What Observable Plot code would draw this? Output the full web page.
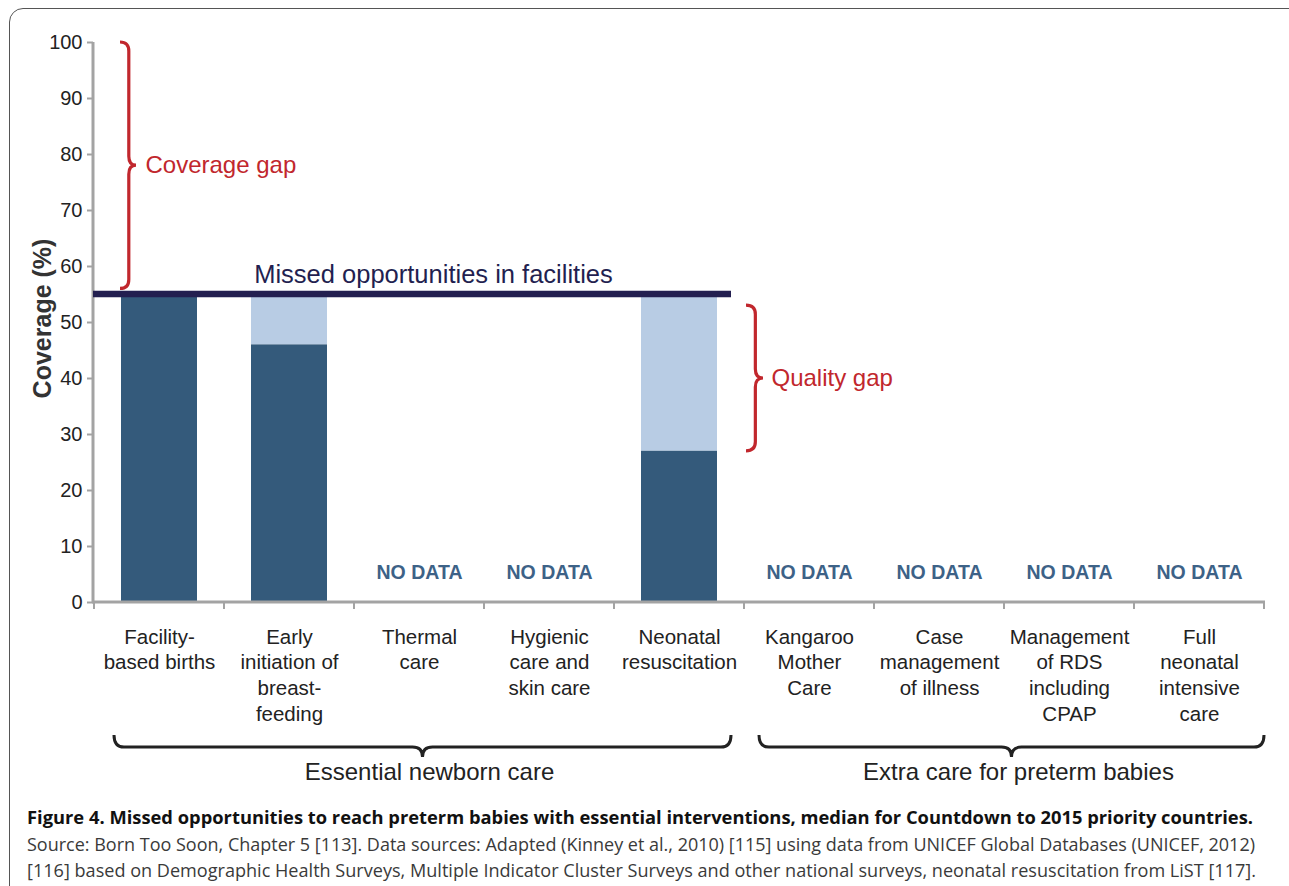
<!DOCTYPE html>
<html>
<head>
<meta charset="utf-8">
<script src="https://cdn.jsdelivr.net/npm/d3@7"></script>
<script src="https://cdn.jsdelivr.net/npm/@observablehq/plot@0.6"></script>
<style>
  html, body { margin: 0; padding: 0; background: #fff; }
  body { width: 1289px; height: 886px; position: relative; overflow: hidden; font-family: "Liberation Sans", Arial, sans-serif; }
  #frame { position: absolute; left: 9px; top: 8px; width: 1300px; height: 900px; border: 1.3px solid #555; border-radius: 14px; box-sizing: border-box; }
  #chart { position: absolute; left: 0; top: 0; }
  #caption { position: absolute; left: 27px; top: 804px; font-family: "Open Sans", "Noto Sans", sans-serif; font-size: 18.5px; line-height: 26.5px; color: #3a3a3a; white-space: nowrap; }
  #caption div { transform-origin: 0 50%; width: max-content; }
  #caption .t { font-weight: 700; color: #111; }
</style>
</head>
<body>
<div id="frame"></div>
<div id="chart"></div>
<div id="caption">
  <div class="t">Figure 4. Missed opportunities to reach preterm babies with essential interventions, median for Countdown to 2015 priority countries.</div>
  <div>Source: Born Too Soon, Chapter 5 [113]. Data sources: Adapted (Kinney et al., 2010) [115] using data from UNICEF Global Databases (UNICEF, 2012)</div>
  <div>[116] based on Demographic Health Surveys, Multiple Indicator Cluster Surveys and other national surveys, neonatal resuscitation from LiST [117].</div>
</div>
<script>
// ---- data ----
const categories = [
  "Facility-based births", "Early initiation of breast-feeding", "Thermal care",
  "Hygienic care and skin care", "Neonatal resuscitation", "Kangaroo Mother Care",
  "Case management of illness", "Management of RDS including CPAP", "Full neonatal intensive care"
];
const categoryLabels = [
  "Facility-\nbased births", "Early\ninitiation of\nbreast-\nfeeding", "Thermal\ncare",
  "Hygienic\ncare and\nskin care", "Neonatal\nresuscitation", "Kangaroo\nMother\nCare",
  "Case\nmanagement\nof illness", "Management\nof RDS\nincluding\nCPAP", "Full\nneonatal\nintensive\ncare"
];
const effectiveCoverage = [55, 46, null, null, 27, null, null, null, null];
const contactCoverage   = [55, 55, null, null, 55, null, null, null, null];
const missedLevel = 55;
const coverageGap = [56, 100];
const qualityGap = [27, 53];
const noDataLevel = 5.3;
const yTicks = [0, 10, 20, 30, 40, 50, 60, 70, 80, 90, 100];
const groupLabels = ["Essential newborn care", "Extra care for preterm babies"];
const groupFrom = [0, 5];
const groupTo = [4, 8];

const rows = categories.map((c, i) => ({
  category: c, label: categoryLabels[i],
  effective: effectiveCoverage[i], contact: contactCoverage[i]
}));
const withData = rows.filter(d => d.effective != null);
const noData = rows.filter(d => d.effective == null);

const DARK = "#345a7b", LIGHT = "#b8cce4", NAVY = "#231f50", RED = "#c1272d", AXIS = "#a3a3a3";
const FONT = "'Liberation Sans', Arial, sans-serif";

// vertical brace path (opening to the right)
function vBrace(x0, y1, y2, d) {
  const xm = x0 + d * 0.55, ym = (y1 + y2) / 2, r = Math.min(9, (y2 - y1) / 4);
  return `M${x0},${y1} Q${xm},${y1} ${xm},${y1 + r} L${xm},${ym - r} Q${xm},${ym} ${x0 + d},${ym}` +
         ` Q${xm},${ym} ${xm},${ym + r} L${xm},${y2 - r} Q${xm},${y2} ${x0},${y2}`;
}
// horizontal brace path (opening upward, tip downward)
function hBrace(x1, x2, y0, d) {
  const ym = y0 + d * 0.55, xm = (x1 + x2) / 2, r = 10;
  return `M${x1},${y0} Q${x1},${ym} ${x1 + r},${ym} L${xm - r},${ym} Q${xm},${ym} ${xm},${y0 + d}` +
         ` Q${xm},${ym} ${xm + r},${ym} L${x2 - r},${ym} Q${x2},${ym} ${x2},${y0}`;
}

function decorations(index, scales, values, dims) {
  const {x, y} = scales;
  const bw = x.bandwidth();
  const left = dims.marginLeft, right = dims.width - dims.marginRight;
  const bottom = dims.height - dims.marginBottom, top = dims.marginTop;
  const g = d3.create("svg:g").attr("fill", "none");
  // axes lines
  g.append("line").attr("x1", left).attr("x2", left).attr("y1", top).attr("y2", bottom + 1)
    .attr("stroke", AXIS).attr("stroke-width", 3);
  g.append("line").attr("x1", left - 1).attr("x2", right).attr("y1", bottom).attr("y2", bottom)
    .attr("stroke", AXIS).attr("stroke-width", 3);
  // x ticks at band boundaries
  const bounds = categories.map(c => x(c)).concat([x(categories[categories.length - 1]) + bw]);
  for (const b of bounds) {
    g.append("line").attr("x1", b).attr("x2", b).attr("y1", bottom).attr("y2", bottom + 7)
      .attr("stroke", AXIS).attr("stroke-width", 2);
  }
  // missed-opportunities line
  g.append("line").attr("x1", left).attr("x2", x(categories[4]) + bw * 0.9)
    .attr("y1", y(missedLevel)).attr("y2", y(missedLevel))
    .attr("stroke", NAVY).attr("stroke-width", 6.5);
  // coverage gap brace
  g.append("path").attr("d", vBrace(left + 27, y(coverageGap[1]), y(coverageGap[0]), 16))
    .attr("stroke", RED).attr("stroke-width", 3.2);
  // quality gap brace
  const qx = x(categories[4]) + bw + 2;
  g.append("path").attr("d", vBrace(qx, y(qualityGap[1]), y(qualityGap[0]), 17))
    .attr("stroke", RED).attr("stroke-width", 3.2);
  // group braces and labels
  const gb = [[20, -13], [15, 0]];
  groupLabels.forEach((lab, i) => {
    const x1 = x(categories[groupFrom[i]]) + gb[i][0];
    const x2 = x(categories[groupTo[i]]) + bw + gb[i][1];
    g.append("path").attr("d", hBrace(x1, x2, bottom + 133, 22))
      .attr("stroke", "#222").attr("stroke-width", 3);
    g.append("text").attr("x", (x1 + x2) / 2 + 7).attr("y", bottom + 178)
      .attr("text-anchor", "middle").attr("fill", "#222").attr("stroke", "none")
      .attr("font-family", FONT).attr("font-size", 24).text(lab);
  });
  return g.node();
}

const chart = Plot.plot({
  width: 1289,
  height: 792,
  marginLeft: 93,
  marginRight: 24,
  marginTop: 42,
  marginBottom: 190,
  style: {fontFamily: FONT, background: "transparent", overflow: "visible"},
  x: {domain: categories, padding: 0, axis: null},
  y: {domain: [0, 100], axis: null},
  marks: [
    Plot.barY(withData, {x: "category", y1: "effective", y2: "contact", fill: LIGHT, insetLeft: 27, insetRight: 27}),
    Plot.barY(withData, {x: "category", y1: 0, y2: "effective", fill: DARK, insetLeft: 27, insetRight: 27}),
    decorations,
    Plot.axisY({ticks: yTicks, tickSize: 6, tickPadding: 5, fontSize: 20, stroke: AXIS, strokeWidth: 2, fill: "#222", label: null}),
    Plot.text(noData, {x: "category", y: () => noDataLevel, text: () => "NO DATA", fill: "#3d6287",
      fontSize: 19.5, fontWeight: "bold"}),
    Plot.text(rows, {x: "category", y: () => 0, text: "label", lineAnchor: "top", dy: 23,
      fontSize: 20.5, lineHeight: 1.25, fill: "#222"}),
    Plot.text(["Coverage (%)"], {frameAnchor: "left", textAnchor: "middle", rotate: -90, dx: -51, dy: -4,
      fontSize: 25, fontWeight: 600, fill: "#333"}),
    Plot.text(["Missed opportunities in facilities"], {x: () => categories[2], y: () => missedLevel, dy: -20,
      dx: 14, fontSize: 25.5, fill: NAVY, fontWeight: 500}),
    Plot.text(["Coverage gap"], {x: () => categories[0], y: () => (coverageGap[0] + coverageGap[1]) / 2,
      textAnchor: "start", dx: -14, fontSize: 24, fill: RED}),
    Plot.text(["Quality gap"], {x: () => categories[5], y: () => (qualityGap[0] + qualityGap[1]) / 2,
      textAnchor: "start", dx: -38, fontSize: 24, fill: RED})
  ]
});
document.getElementById("chart").appendChild(chart);

// fit caption lines to the reference width
const targetW = [1226, 1228, 1229];
document.querySelectorAll("#caption div").forEach((el, i) => {
  const w = el.getBoundingClientRect().width;
  el.style.transform = `scaleX(${targetW[i] / w})`;
});
</script>
</body>
</html>
